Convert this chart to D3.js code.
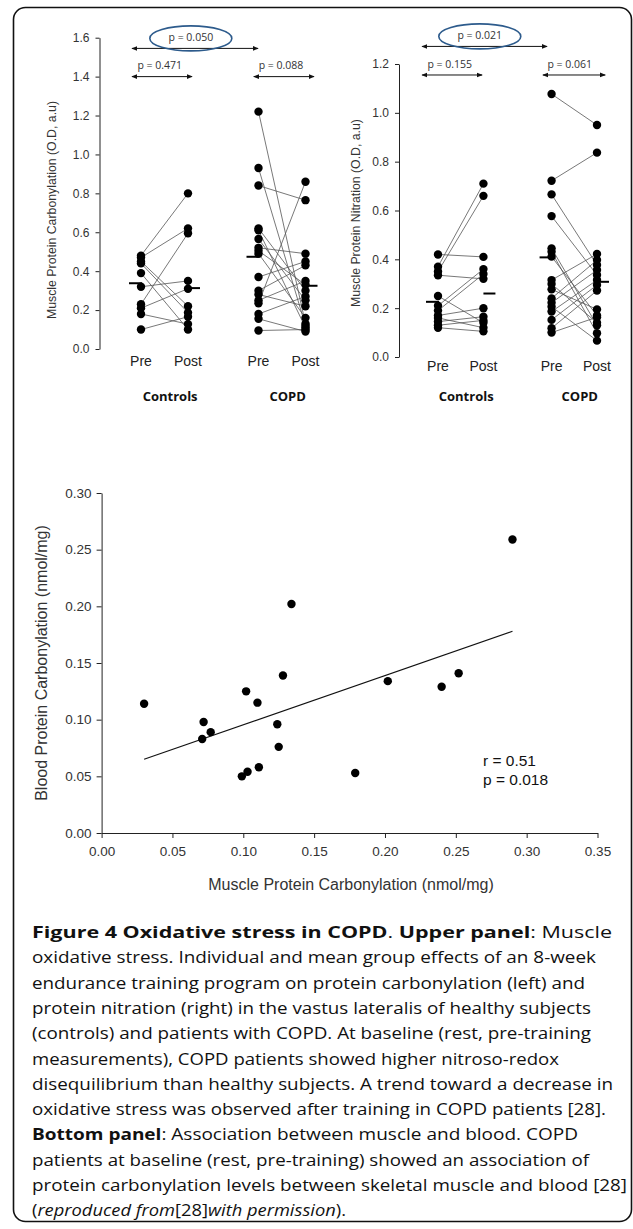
<!DOCTYPE html>
<html>
<head>
<meta charset="utf-8">
<script src="https://cdn.jsdelivr.net/npm/d3@7"></script>
<style>
  body { margin: 0; background: #fff; }
  svg { display: block; }
</style>
</head>
<body>
<svg id="fig" width="633" height="1229"></svg>
<script>
// ---- data ----
const phases = ["Pre", "Post"];
const groups = ["Controls", "COPD"];

// upper left: muscle protein carbonylation (O.D, a.u)
const carbTicks = [0, 0.2, 0.4, 0.6, 0.8, 1.0, 1.2, 1.4, 1.6];
const carbCtrlPre  = [0.48, 0.47, 0.45, 0.44, 0.39, 0.32, 0.23, 0.21, 0.18, 0.10];
const carbCtrlPost = [0.80, 0.62, 0.22, 0.187, 0.10, 0.35, 0.595, 0.31, 0.128, 0.166];
const carbCopdPre  = [1.22, 0.93, 0.84, 0.62, 0.61, 0.565, 0.52, 0.505, 0.49, 0.37, 0.30, 0.28, 0.25, 0.235, 0.18, 0.155, 0.095];
const carbCopdPost = [0.13, 0.12, 0.765, 0.30, 0.11, 0.25, 0.49, 0.33, 0.16, 0.45, 0.43, 0.22, 0.35, 0.86, 0.27, 0.09, 0.10];
const carbMeans = [0.338, 0.313, 0.474, 0.325]; // ctrl pre, ctrl post, copd pre, copd post
const carbPvals = ["p = 0.471", "p = 0.088", "p = 0.050"]; // ctrl, copd, between groups

// upper right: muscle protein nitration (O.D, a.u)
const nitTicks = [0, 0.2, 0.4, 0.6, 0.8, 1.0, 1.2];
const nitCtrlPre  = [0.42, 0.37, 0.35, 0.335, 0.25, 0.21, 0.19, 0.17, 0.16, 0.145, 0.13, 0.12];
const nitCtrlPost = [0.41, 0.71, 0.66, 0.32, 0.14, 0.36, 0.34, 0.20, 0.12, 0.165, 0.15, 0.105];
const nitCopdPre  = [1.077, 0.722, 0.666, 0.577, 0.445, 0.431, 0.411, 0.315, 0.299, 0.277, 0.240, 0.222, 0.206, 0.186, 0.152, 0.118, 0.10];
const nitCopdPost = [0.95, 0.837, 0.377, 0.336, 0.13, 0.097, 0.17, 0.422, 0.14, 0.195, 0.397, 0.356, 0.067, 0.315, 0.295, 0.272, 0.163];
const nitMeans = [0.226, 0.26, 0.408, 0.308];
const nitPvals = ["p = 0.155", "p = 0.061", "p = 0.021"];

// bottom: muscle vs blood carbonylation (nmol/mg)
const muscleCarb = [0.030, 0.072, 0.077, 0.071, 0.102, 0.110, 0.128, 0.134, 0.124, 0.125, 0.099, 0.103, 0.111, 0.179, 0.202, 0.240, 0.252, 0.290];
const bloodCarb  = [0.114, 0.098, 0.089, 0.083, 0.125, 0.115, 0.139, 0.202, 0.096, 0.076, 0.050, 0.054, 0.058, 0.053, 0.134, 0.129, 0.141, 0.259];
const fitX = [0.03, 0.29];
const fitY = [0.065, 0.178];
const scatterXTicks = [0, 0.05, 0.10, 0.15, 0.20, 0.25, 0.30, 0.35];
const scatterYTicks = [0, 0.05, 0.10, 0.15, 0.20, 0.25, 0.30];
const statLines = ["r = 0.51", "p = 0.018"];

const ARIAL = "'Liberation Sans', Arial, sans-serif";
const OPEN = "'Open Sans', 'Noto Sans', sans-serif";

const svg = d3.select("#fig");

// frame round the whole figure
svg.append("rect")
  .attr("x", 13.5).attr("y", 7.5).attr("width", 618).attr("height", 1214)
  .attr("rx", 12).attr("fill", "none").attr("stroke", "#111").attr("stroke-width", 1.6);

// arrow head
const defs = svg.append("defs");
defs.append("marker").attr("id", "arr")
  .attr("viewBox", "0 0 8 8").attr("refX", 7).attr("refY", 4)
  .attr("markerWidth", 6).attr("markerHeight", 6)
  .attr("markerUnits", "userSpaceOnUse")
  .attr("orient", "auto-start-reverse")
  .append("path").attr("d", "M0,0.8 L8,4 L0,7.2 Z").attr("fill", "#111");

// ---- paired pre/post panel ----
function drawPaired(o) {
  const g = svg.append("g");
  const x = d3.scaleLinear().domain([0, 3.5]).range(o.xRange); // slots: 0,1 controls / 2.5,3.5 COPD
  const y = d3.scaleLinear().domain([0, o.ticks[o.ticks.length - 1]]).range(o.yRange);
  const slots = [0, 1, 2.5, 3.5];

  const ax = g.append("g").attr("transform", `translate(${o.axisX},0)`)
    .call(d3.axisLeft(y).tickValues(o.ticks).tickFormat(d3.format(".1f")).tickSize(4).tickSizeOuter(0).tickPadding(6));
  ax.select(".domain").attr("stroke", "#222");
  ax.selectAll(".tick line").attr("stroke", "#222");
  ax.selectAll("text").attr("font-family", ARIAL).attr("font-size", 12).attr("fill", "#333");

  g.append("text")
    .attr("transform", `translate(${o.titleX},${o.titleY}) rotate(-90)`)
    .attr("text-anchor", "middle").attr("dominant-baseline", "middle")
    .attr("font-family", ARIAL).attr("font-size", 12.3).attr("fill", "#333")
    .text(o.title);

  // pairs lines then dots
  o.sets.forEach((s, gi) => {
    const x0 = x(slots[gi * 2]), x1 = x(slots[gi * 2 + 1]);
    const pairs = s.pre.map((v, i) => [v, s.post[i]]);
    g.append("g").selectAll("line").data(pairs).enter().append("line")
      .attr("x1", x0).attr("y1", d => y(d[0]))
      .attr("x2", x1).attr("y2", d => y(d[1]))
      .attr("stroke", "#555").attr("stroke-width", 0.8);
    g.append("g").selectAll("circle").data(s.pre.concat(s.post)).enter().append("circle")
      .attr("cx", (d, i) => i < s.pre.length ? x0 : x1)
      .attr("cy", d => y(d)).attr("r", 4.2).attr("fill", "#000");
  });

  // mean bars: pre to the left of the dots, post to the right
  g.append("g").selectAll("line").data(o.means).enter().append("line")
    .attr("x1", (d, i) => i % 2 === 0 ? x(slots[i]) - 12 : x(slots[i]))
    .attr("x2", (d, i) => i % 2 === 0 ? x(slots[i]) + 1 : x(slots[i]) + 12)
    .attr("y1", d => y(d)).attr("y2", d => y(d))
    .attr("stroke", "#000").attr("stroke-width", 2);

  // phase and group labels
  g.append("g").selectAll("text").data(slots).enter().append("text")
    .attr("x", d => x(d)).attr("y", o.phaseY)
    .attr("text-anchor", "middle").attr("font-family", ARIAL).attr("font-size", 14).attr("fill", "#222")
    .text((d, i) => phases[i % 2]);
  g.append("g").selectAll("text").data(groups).enter().append("text")
    .attr("x", (d, i) => x(slots[i * 2] + 0.62)).attr("y", o.groupY)
    .attr("text-anchor", "middle").attr("font-family", OPEN).attr("font-weight", 700)
    .attr("font-size", 13).attr("fill", "#111")
    .text(d => d);

  // comparison arrows with p values
  o.compare.forEach((c, i) => {
    const yy = y(c.level);
    g.append("line")
      .attr("x1", x(c.from)).attr("x2", x(c.to)).attr("y1", yy).attr("y2", yy)
      .attr("stroke", "#111").attr("stroke-width", 1)
      .attr("marker-start", "url(#arr)").attr("marker-end", "url(#arr)");
    g.append("text")
      .attr("x", x(c.textAt)).attr("y", yy - 10)
      .attr("text-anchor", "middle").attr("dominant-baseline", "middle")
      .attr("font-family", OPEN).attr("font-size", 10.5).attr("fill", "#333")
      .text(o.pvals[i]);
    if (c.circled) {
      g.append("ellipse")
        .attr("cx", x(c.textAt)).attr("cy", yy - 10)
        .attr("rx", 41).attr("ry", 12.5)
        .attr("fill", "none").attr("stroke", "#2d5b8c").attr("stroke-width", 1.6);
    }
  });
}

drawPaired({
  xRange: [141, 305.5], yRange: [349, 37.7], axisX: 99.5, ticks: carbTicks,
  title: "Muscle Protein Carbonylation (O.D, a.u)", titleX: 53, titleY: 210,
  sets: [{ pre: carbCtrlPre, post: carbCtrlPost }, { pre: carbCopdPre, post: carbCopdPost }],
  means: carbMeans, pvals: carbPvals, phaseY: 366, groupY: 401,
  compare: [
    { from: -0.19, to: 1.085, level: 1.40, textAt: 0.4 },
    { from: 2.40, to: 3.68, level: 1.40, textAt: 2.98 },
    { from: -0.19, to: 2.49, level: 1.545, textAt: 1.06, circled: true }
  ]
});

drawPaired({
  xRange: [438, 597], yRange: [357, 64], axisX: 399, ticks: nitTicks,
  title: "Muscle Protein Nitration (O.D, a.u)", titleX: 357, titleY: 213,
  sets: [{ pre: nitCtrlPre, post: nitCtrlPost }, { pre: nitCopdPre, post: nitCopdPost }],
  means: nitMeans, pvals: nitPvals, phaseY: 371, groupY: 401,
  compare: [
    { from: -0.35, to: 0.97, level: 1.155, textAt: 0.26 },
    { from: 2.31, to: 3.68, level: 1.155, textAt: 2.9 },
    { from: -0.35, to: 2.40, level: 1.272, textAt: 0.92, circled: true }
  ]
});

// ---- scatter: muscle vs blood ----
(function drawScatter() {
  const g = svg.append("g");
  const x = d3.scaleLinear().domain([0, 0.35]).range([101.6, 597.5]);
  const y = d3.scaleLinear().domain([0, 0.30]).range([833, 493]);

  const ya = g.append("g").attr("transform", `translate(${x(0)},0)`)
    .call(d3.axisLeft(y).tickValues(scatterYTicks).tickFormat(d3.format(".2f")).tickSize(5).tickSizeOuter(0).tickPadding(5));
  const xa = g.append("g").attr("transform", `translate(0,${y(0)})`)
    .call(d3.axisBottom(x).tickValues(scatterXTicks).tickFormat(d3.format(".2f")).tickSize(5).tickSizeOuter(0).tickPadding(8));
  [ya, xa].forEach(a => {
    a.select(".domain").attr("stroke", "#222");
    a.selectAll(".tick line").attr("stroke", "#222");
    a.selectAll("text").attr("font-family", ARIAL).attr("font-size", 13.5).attr("fill", "#333");
  });

  g.append("text")
    .attr("transform", `translate(43,663) rotate(-90)`)
    .attr("text-anchor", "middle").attr("dominant-baseline", "middle")
    .attr("font-family", ARIAL).attr("font-size", 16).attr("fill", "#333")
    .text("Blood Protein Carbonylation (nmol/mg)");
  g.append("text")
    .attr("x", 351).attr("y", 886)
    .attr("text-anchor", "middle").attr("dominant-baseline", "middle")
    .attr("font-family", ARIAL).attr("font-size", 16).attr("fill", "#333")
    .text("Muscle Protein Carbonylation (nmol/mg)");

  g.append("line")
    .attr("x1", x(fitX[0])).attr("y1", y(fitY[0]))
    .attr("x2", x(fitX[1])).attr("y2", y(fitY[1]))
    .attr("stroke", "#111").attr("stroke-width", 1.1);

  g.append("g").selectAll("circle").data(muscleCarb).enter().append("circle")
    .attr("cx", d => x(d)).attr("cy", (d, i) => y(bloodCarb[i]))
    .attr("r", 4.2).attr("fill", "#000");

  g.append("g").selectAll("text").data(statLines).enter().append("text")
    .attr("x", 483).attr("y", (d, i) => 762 + i * 18.5)
    .attr("dominant-baseline", "middle")
    .attr("font-family", ARIAL).attr("font-size", 15.5).attr("fill", "#111")
    .text(d => d);
})();

// ---- caption ----
const captionLines = [
  [["b", "Figure 4 Oxidative stress in COPD"], ["n", ". "], ["b", "Upper panel"], ["n", ": Muscle"]],
  [["n", "oxidative stress. Individual and mean group effects of an 8-week"]],
  [["n", "endurance training program on protein carbonylation (left) and"]],
  [["n", "protein nitration (right) in the vastus lateralis of healthy subjects"]],
  [["n", "(controls) and patients with COPD. At baseline (rest, pre-training"]],
  [["n", "measurements), COPD patients showed higher nitroso-redox"]],
  [["n", "disequilibrium than healthy subjects. A trend toward a decrease in"]],
  [["n", "oxidative stress was observed after training in COPD patients [28]."]],
  [["b", "Bottom panel"], ["n", ": Association between muscle and blood. COPD"]],
  [["n", "patients at baseline (rest, pre-training) showed an association of"]],
  [["n", "protein carbonylation levels between skeletal muscle and blood [28]"]],
  [["n", "("], ["i", "reproduced from"], ["n", "[28]"], ["i", "with permission"], ["n", ")."]]
];
const captionWidths = [580, 564, 553, 559, 559, 527, 581, 574, 546, 557, 595, 314];

const cap = svg.append("g");
captionLines.forEach((parts, li) => {
  const t = cap.append("text")
    .attr("x", 32).attr("y", 938 + li * 25.3)
    .attr("font-family", OPEN).attr("font-size", 16).attr("fill", "#111")
    .attr("textLength", captionWidths[li]).attr("lengthAdjust", "spacingAndGlyphs")
    .attr("xml:space", "preserve");
  parts.forEach(p => {
    t.append("tspan")
      .attr("font-weight", p[0] === "b" ? 700 : 400)
      .attr("font-style", p[0] === "i" ? "italic" : "normal")
      .text(p[1]);
  });
});
</script>
</body>
</html>
